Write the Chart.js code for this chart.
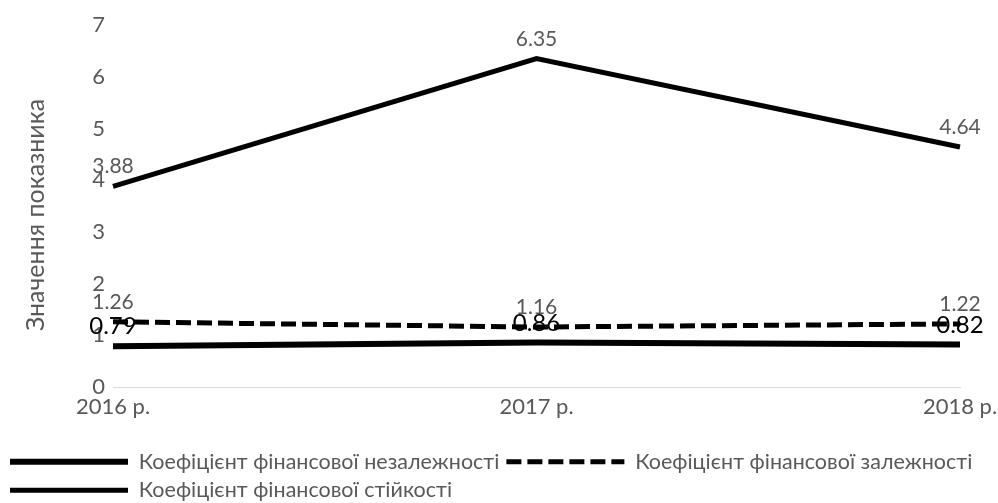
<!DOCTYPE html>
<html>
<head>
<meta charset="utf-8">
<script src="https://cdn.jsdelivr.net/npm/chart.js@4/dist/chart.umd.min.js"></script>
<style>
html,body{margin:0;padding:0;background:#fff;}
#wrap{width:998px;height:503px;position:relative;}
</style>
</head>
<body>
<div id="wrap"><canvas id="c" width="998" height="503"></canvas></div>
<script>
const categories = ['2016 р.', '2017 р.', '2018 р.'];
const seriesNames = [
  'Коефіцієнт фінансової незалежності',
  'Коефіцієнт фінансової залежності',
  'Коефіцієнт фінансової стійкості'
];
const independence = [0.79, 0.86, 0.82];
const dependence = [1.26, 1.16, 1.22];
const stability = [3.88, 6.35, 4.64];
const yTicks = [0, 1, 2, 3, 4, 5, 6, 7];
const yTitle = 'Значення показника';

const FONT = 'Lato, "Liberation Sans", sans-serif';
const GREY = '#595959';

const labelPlugin = {
  id: 'valueLabels',
  afterDatasetsDraw(chart) {
    const ctx = chart.ctx;
    chart.data.datasets.forEach((ds, i) => {
      const meta = chart.getDatasetMeta(i);
      ctx.save();
      ctx.font = ds.labelSize + 'px ' + FONT;
      ctx.fillStyle = ds.labelColor;
      ctx.textAlign = 'center';
      ctx.textBaseline = 'alphabetic';
      meta.data.forEach((pt, j) => {
        ctx.fillText(ds.data[j].toFixed(2), pt.x, pt.y - ds.labelOffset);
      });
      ctx.restore();
    });
  }
};

new Chart(document.getElementById('c'), {
  type: 'line',
  data: {
    labels: categories,
    datasets: [
      { label: seriesNames[0], data: independence, borderColor: '#000', backgroundColor: '#000',
        borderWidth: 6, pointRadius: 0, tension: 0, labelColor: '#000', labelSize: 24, labelOffset: 12 },
      { label: seriesNames[1], data: dependence, borderColor: '#000', backgroundColor: '#000',
        borderWidth: 5, borderDash: [15, 6], pointRadius: 0, tension: 0, labelColor: GREY, labelSize: 21, labelOffset: 13 },
      { label: seriesNames[2], data: stability, borderColor: '#000', backgroundColor: '#000',
        borderWidth: 5, pointRadius: 0, tension: 0, labelColor: GREY, labelSize: 21, labelOffset: 13 }
    ]
  },
  options: {
    responsive: false,
    animation: false,
    devicePixelRatio: 1,
    layout: { padding: { top: 25, right: 0, bottom: -8, left: 3 } },
    plugins: {
      tooltip: { enabled: false },
      legend: {
        position: 'bottom',
        align: 'start',
        labels: {
          usePointStyle: true,
          pointStyle: 'line',
          pointStyleWidth: 118,
          boxHeight: 21,
          color: GREY,
          font: { family: FONT, size: 21.5 },
          padding: 7,
          generateLabels(chart) {
            const items = Chart.defaults.plugins.legend.labels.generateLabels(chart);
            items.forEach(it => {
              const ds = chart.data.datasets[it.datasetIndex];
              it.lineDash = ds.borderDash || [];
              it.lineWidth = ds.borderWidth;
              it.strokeStyle = ds.borderColor;
              it.lineCap = 'butt';
            });
            return items;
          }
        }
      }
    },
    scales: {
      x: {
        offset: false,
        afterFit(scale) { scale.height = 57; scale.paddingRight = 38; },
        grid: { display: false, drawTicks: false },
        border: { display: true, color: '#d9d9d9', width: 1 },
        ticks: { color: GREY, font: { family: FONT, size: 22 }, padding: 7, maxRotation: 0 }
      },
      y: {
        min: 0, max: 7,
        afterBuildTicks(scale) { scale.ticks = yTicks.map(v => ({ value: v })); },
        afterFit(scale) {
          scale.width = 110;
          if (!scale._titleShifted) {
            const orig = scale.drawTitle;
            scale.drawTitle = function () {
              const c = this.ctx;
              c.save();
              c.translate(0, 9);
              orig.apply(this, arguments);
              c.restore();
            };
            scale._titleShifted = true;
          }
        },
        grid: { display: false, drawTicks: false },
        border: { display: false },
        ticks: { color: GREY, font: { family: FONT, size: 22 }, padding: 8 },
        title: { display: true, text: yTitle, color: GREY, font: { family: FONT, size: 25 }, padding: { top: 18, bottom: 0 } }
      }
    }
  },
  plugins: [labelPlugin]
});
</script>
</body>
</html>
